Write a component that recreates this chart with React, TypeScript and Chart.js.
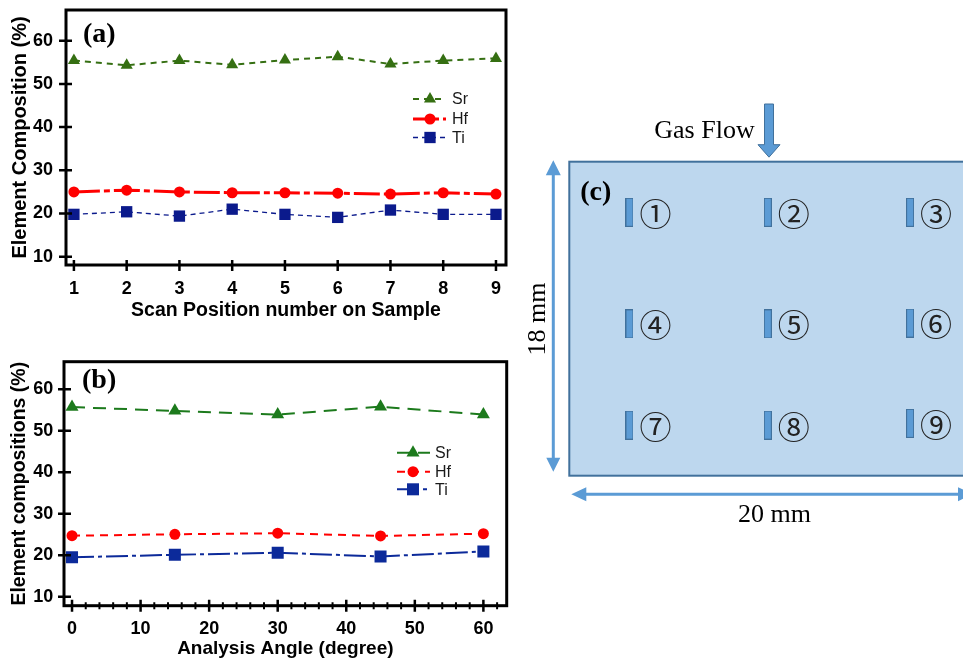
import React, { useEffect, useRef } from 'react';
import { Chart, registerables } from 'chart.js';

Chart.register(...registerables);

// ---------- Panel (a): composition vs scan position ----------
const scanPositions = [1, 2, 3, 4, 5, 6, 7, 8, 9];
const srByPosition = [55.4, 54.3, 55.4, 54.4, 55.5, 56.3, 54.6, 55.4, 55.9];
const hfByPosition = [25.0, 25.4, 25.0, 24.8, 24.8, 24.7, 24.5, 24.8, 24.5];
const tiByPosition = [19.8, 20.4, 19.4, 21.0, 19.8, 19.1, 20.8, 19.8, 19.8];

// ---------- Panel (b): composition vs analysis angle ----------
const analysisAngles = [0, 15, 30, 45, 60];
const srByAngle = [55.7, 54.8, 53.9, 55.8, 53.9];
const hfByAngle = [24.7, 25.05, 25.3, 24.65, 25.2];
const tiByAngle = [19.5, 20.1, 20.6, 19.7, 20.9];

// ---------- Tick labels ----------
const compositionTicks = [10, 20, 30, 40, 50, 60];
const positionTicks = [1, 2, 3, 4, 5, 6, 7, 8, 9];
const angleTicks = [0, 10, 20, 30, 40, 50, 60];
const angleMinorTicks = [2, 4, 6, 8, 12, 14, 16, 18, 22, 24, 26, 28, 32, 34, 36, 38, 42, 44, 46, 48, 52, 54, 56, 58, 62];

// ---------- Panel (c): sample map (mm) ----------
const siteLabels = ['①', '②', '③', '④', '⑤', '⑥', '⑦', '⑧', '⑨'];
const siteXmm = [3.0, 9.9, 17.0, 3.0, 9.9, 17.0, 3.0, 9.9, 17.0];
const siteYmm = [2.9, 2.9, 2.9, 9.3, 9.3, 9.25, 15.1, 15.1, 15.0];
const sampleWidthMm = 20;
const sampleHeightMm = 18;

const SANS = 'Arial, "Liberation Sans", Helvetica, sans-serif';
const SERIF = '"Times New Roman", "Liberation Serif", serif';
const CJK = '"Liberation Serif", "Noto Sans CJK JP", serif';

function drawMarker(ctx: CanvasRenderingContext2D, style: string, x: number, y: number, r: number, color: string) {
  ctx.fillStyle = color;
  ctx.beginPath();
  if (style === 'triangle') {
    const a = (2 * Math.PI) / 3;
    ctx.moveTo(x, y - r);
    ctx.lineTo(x + Math.sin(a) * r, y - Math.cos(a) * r);
    ctx.lineTo(x - Math.sin(a) * r, y - Math.cos(a) * r);
    ctx.closePath();
  } else if (style === 'rect') {
    const s = r * Math.SQRT1_2;
    ctx.rect(x - s, y - s, 2 * s, 2 * s);
  } else {
    ctx.arc(x, y, r, 0, Math.PI * 2);
  }
  ctx.fill();
}

interface PanelDecor {
  label: string;
  labelX: number;
  labelBaseline: number;
  yTicks: number[];
  xMajor: number[];
  xMinor: number[];
  yTickOut: number;
  yTickIn: number;
  xTickOut: number;
  xTickIn: number;
  minorHalf: number;
  legend: { x0: number; x1: number; mx: number; tx: number; ys: number[] };
}

function panelDecorPlugin(d: PanelDecor) {
  return {
    id: 'panelDecor',
    afterDraw(chart: any) {
      const { ctx, chartArea: a, scales } = chart;
      const sx = scales.x;
      const sy = scales.y;
      ctx.save();
      ctx.setLineDash([]);
      ctx.strokeStyle = '#000';
      ctx.lineWidth = 3;
      ctx.strokeRect(a.left, a.top, a.right - a.left, a.bottom - a.top);
      ctx.lineWidth = 2.5;
      ctx.beginPath();
      for (const v of d.yTicks) {
        const y = sy.getPixelForValue(v);
        ctx.moveTo(a.left - d.yTickOut, y);
        ctx.lineTo(a.left + d.yTickIn, y);
      }
      for (const v of d.xMajor) {
        const x = sx.getPixelForValue(v);
        ctx.moveTo(x, a.bottom - d.xTickIn);
        ctx.lineTo(x, a.bottom + d.xTickOut);
      }
      ctx.stroke();
      ctx.lineWidth = 2;
      ctx.beginPath();
      for (const v of d.xMinor) {
        const x = sx.getPixelForValue(v);
        ctx.moveTo(x, a.bottom - d.minorHalf);
        ctx.lineTo(x, a.bottom + d.minorHalf);
      }
      ctx.stroke();

      ctx.fillStyle = '#000';
      ctx.font = `bold 28px ${SERIF}`;
      ctx.textAlign = 'left';
      ctx.textBaseline = 'alphabetic';
      ctx.fillText(d.label, d.labelX, d.labelBaseline);

      chart.data.datasets.forEach((ds: any, i: number) => {
        const y = d.legend.ys[i];
        ctx.strokeStyle = ds.borderColor;
        ctx.lineWidth = ds.borderWidth;
        ctx.setLineDash(ds.borderDash || []);
        ctx.beginPath();
        ctx.moveTo(d.legend.x0, y);
        ctx.lineTo(d.legend.x1, y);
        ctx.stroke();
        ctx.setLineDash([]);
        drawMarker(ctx, ds.pointStyle, d.legend.mx, y, ds.pointRadius, ds.backgroundColor);
        ctx.fillStyle = '#1a1a1a';
        ctx.font = `16px ${SANS}`;
        ctx.textBaseline = 'middle';
        ctx.fillText(ds.label, d.legend.tx, y + 1);
      });
      ctx.restore();
    },
  };
}

const fixAxis = (size: number, horizontal: boolean) => (scale: any) => {
  if (horizontal) scale.height = size;
  else scale.width = size;
  scale.paddingTop = 0;
  scale.paddingBottom = 0;
  scale.paddingLeft = 0;
  scale.paddingRight = 0;
};

const setTicks = (vals: number[]) => (scale: any) => {
  scale.ticks = vals.map((v) => ({ value: v }));
};

function series(xs: number[], ys: number[]) {
  return xs.map((x, i) => ({ x, y: ys[i] }));
}

export default function App() {
  const refA = useRef<HTMLCanvasElement>(null);
  const refB = useRef<HTMLCanvasElement>(null);
  const refC = useRef<HTMLCanvasElement>(null);

  useEffect(() => {
    const charts: Chart[] = [];

    // ---------------- Panel (a) ----------------
    const greenA = '#356f12';
    const blueA = '#0b1a8c';
    charts.push(
      new Chart(refA.current as HTMLCanvasElement, {
        type: 'line',
        data: {
          datasets: [
            {
              label: 'Sr', data: series(scanPositions, srByPosition), borderColor: greenA, backgroundColor: greenA,
              borderWidth: 2, borderDash: [6, 5], pointStyle: 'triangle', pointRadius: 7, pointBorderWidth: 0, tension: 0,
            },
            {
              label: 'Hf', data: series(scanPositions, hfByPosition), borderColor: '#ff0000', backgroundColor: '#ff0000',
              borderWidth: 3, borderDash: [26, 4, 6, 4], pointStyle: 'circle', pointRadius: 5.5, pointBorderWidth: 0, tension: 0,
            },
            {
              label: 'Ti', data: series(scanPositions, tiByPosition), borderColor: blueA, backgroundColor: blueA,
              borderWidth: 1.3, borderDash: [5, 4], pointStyle: 'rect', pointRadius: 8, pointBorderWidth: 0, tension: 0,
            },
          ] as any,
        },
        options: {
          responsive: false,
          animation: false,
          events: [],
          layout: { padding: { left: 0, top: 10, right: 14, bottom: 0 } },
          plugins: { legend: { display: false }, tooltip: { enabled: false } },
          scales: {
            x: {
              type: 'linear', min: 0.85, max: 9.19,
              afterBuildTicks: setTicks(positionTicks),
              afterFit: fixAxis(65, true),
              grid: { display: false, drawTicks: false },
              border: { display: false },
              ticks: { padding: 13, autoSkip: false, maxRotation: 0, color: '#000', font: { family: SANS, size: 18, weight: 'bold' } },
              title: { display: true, text: 'Scan Position number on Sample', color: '#000', font: { family: SANS, size: 19.5, weight: 'bold' }, padding: { top: 0, bottom: 8 } },
            },
            y: {
              type: 'linear', min: 8.08, max: 67.1,
              afterBuildTicks: setTicks(compositionTicks),
              afterFit: fixAxis(66, false),
              grid: { display: false, drawTicks: false },
              border: { display: false },
              ticks: { padding: 13, autoSkip: false, color: '#000', font: { family: SANS, size: 18, weight: 'bold' } },
              title: { display: true, text: 'Element Composition (%)', color: '#000', font: { family: SANS, size: 20, weight: 'bold' }, padding: { top: 8, bottom: 0 } },
            },
          },
        } as any,
        plugins: [
          panelDecorPlugin({
            label: '(a)', labelX: 83, labelBaseline: 42,
            yTicks: compositionTicks, xMajor: positionTicks, xMinor: [],
            yTickOut: 7, yTickIn: 6, xTickOut: 6, xTickIn: 5, minorHalf: 3,
            legend: { x0: 413, x1: 446, mx: 430, tx: 452, ys: [99, 119, 137.5] },
          }),
        ],
      })
    );

    // ---------------- Panel (b) ----------------
    const greenB = '#1c7a1c';
    const blueB = '#0c2a9a';
    charts.push(
      new Chart(refB.current as HTMLCanvasElement, {
        type: 'line',
        data: {
          datasets: [
            {
              label: 'Sr', data: series(analysisAngles, srByAngle), borderColor: greenB, backgroundColor: greenB,
              borderWidth: 2, borderDash: [13, 8], pointStyle: 'triangle', pointRadius: 7.5, pointBorderWidth: 0, tension: 0,
            },
            {
              label: 'Hf', data: series(analysisAngles, hfByAngle), borderColor: '#ff0000', backgroundColor: '#ff0000',
              borderWidth: 2, borderDash: [8, 6], pointStyle: 'circle', pointRadius: 5.5, pointBorderWidth: 0, tension: 0,
            },
            {
              label: 'Ti', data: series(analysisAngles, tiByAngle), borderColor: blueB, backgroundColor: blueB,
              borderWidth: 2, borderDash: [22, 4, 4, 4], pointStyle: 'rect', pointRadius: 8.5, pointBorderWidth: 0, tension: 0,
            },
          ] as any,
        },
        options: {
          responsive: false,
          animation: false,
          events: [],
          layout: { padding: { left: 0, top: 21.7, right: 13.3, bottom: 0 } },
          plugins: { legend: { display: false }, tooltip: { enabled: false } },
          scales: {
            x: {
              type: 'linear', min: -1.17, max: 63.4,
              afterBuildTicks: setTicks(angleTicks),
              afterFit: fixAxis(54.3, true),
              grid: { display: false, drawTicks: false },
              border: { display: false },
              ticks: { padding: 13, autoSkip: false, maxRotation: 0, color: '#000', font: { family: SANS, size: 18, weight: 'bold' } },
              title: { display: true, text: 'Analysis Angle (degree)', color: '#000', font: { family: SANS, size: 19, weight: 'bold' }, padding: { top: 0, bottom: 0 } },
            },
            y: {
              type: 'linear', min: 7.83, max: 66.65,
              afterBuildTicks: setTicks(compositionTicks),
              afterFit: fixAxis(64, false),
              grid: { display: false, drawTicks: false },
              border: { display: false },
              ticks: { padding: 10.7, autoSkip: false, color: '#000', font: { family: SANS, size: 18, weight: 'bold' } },
              title: { display: true, text: 'Element compositions (%)', color: '#000', font: { family: SANS, size: 19.5, weight: 'bold' }, padding: { top: 8, bottom: 0 } },
            },
          },
        } as any,
        plugins: [
          panelDecorPlugin({
            label: '(b)', labelX: 82, labelBaseline: 48,
            yTicks: compositionTicks, xMajor: angleTicks, xMinor: angleMinorTicks,
            yTickOut: 6, yTickIn: 7, xTickOut: 6, xTickIn: 6, minorHalf: 3.5,
            legend: { x0: 397, x1: 430, mx: 413, tx: 435, ys: [112.7, 131.7, 149.3] },
          }),
        ],
      })
    );

    // ---------------- Panel (c) ----------------
    const barImg = document.createElement('canvas');
    barImg.width = 8;
    barImg.height = 29;
    const bctx = barImg.getContext('2d') as CanvasRenderingContext2D;
    bctx.fillStyle = '#41719c';
    bctx.fillRect(0, 0, 8, 29);
    bctx.fillStyle = '#5b9bd5';
    bctx.fillRect(1, 1, 6, 27);

    const arrowBlue = '#5b9bd5';
    const samplePlugin = {
      id: 'sampleMap',
      beforeDatasetsDraw(chart: any) {
        const { ctx, scales } = chart;
        const x0 = scales.x.getPixelForValue(0);
        const x1 = scales.x.getPixelForValue(sampleWidthMm);
        const y0 = scales.y.getPixelForValue(0);
        const y1 = scales.y.getPixelForValue(sampleHeightMm);
        ctx.save();
        ctx.fillStyle = '#bdd7ee';
        ctx.fillRect(x0, y0, x1 - x0, y1 - y0);
        ctx.strokeStyle = '#41719c';
        ctx.lineWidth = 2;
        ctx.strokeRect(x0, y0, x1 - x0, y1 - y0);
        ctx.restore();
      },
      afterDatasetsDraw(chart: any) {
        const { ctx } = chart;
        const meta = chart.getDatasetMeta(0);
        ctx.save();
        ctx.fillStyle = '#222';
        ctx.font = `32px ${CJK}`;
        ctx.textAlign = 'center';
        ctx.textBaseline = 'middle';
        meta.data.forEach((pt: any, i: number) => {
          ctx.fillText(siteLabels[i], pt.x + 26, pt.y + 5);
        });
        ctx.restore();
      },
      afterDraw(chart: any) {
        const { ctx, scales } = chart;
        const left = scales.x.getPixelForValue(0);
        const top = scales.y.getPixelForValue(0);
        const bottom = scales.y.getPixelForValue(sampleHeightMm);
        ctx.save();
        // panel label
        ctx.fillStyle = '#000';
        ctx.font = `bold 28px ${SERIF}`;
        ctx.textAlign = 'left';
        ctx.textBaseline = 'alphabetic';
        ctx.fillText('(c)', left + 11, 200);
        // gas flow text + block arrow
        ctx.font = `26px ${SERIF}`;
        ctx.textAlign = 'center';
        ctx.fillText('Gas Flow', 184.5, 138.3);
        const cx = 249;
        const tip = top - 4.5;
        ctx.beginPath();
        ctx.moveTo(cx - 4.5, 104);
        ctx.lineTo(cx + 4.5, 104);
        ctx.lineTo(cx + 4.5, tip - 12.5);
        ctx.lineTo(cx + 11, tip - 12.5);
        ctx.lineTo(cx, tip);
        ctx.lineTo(cx - 11, tip - 12.5);
        ctx.lineTo(cx - 4.5, tip - 12.5);
        ctx.closePath();
        ctx.fillStyle = arrowBlue;
        ctx.fill();
        ctx.strokeStyle = '#41719c';
        ctx.lineWidth = 1;
        ctx.stroke();
        // vertical dimension arrow
        const vx = 33.3;
        const vt = top - 1.5;
        const vb = bottom - 4;
        ctx.strokeStyle = arrowBlue;
        ctx.fillStyle = arrowBlue;
        ctx.lineWidth = 3;
        ctx.beginPath();
        ctx.moveTo(vx, vt + 12);
        ctx.lineTo(vx, vb - 12);
        ctx.stroke();
        ctx.beginPath();
        ctx.moveTo(vx, vt);
        ctx.lineTo(vx + 7.5, vt + 15);
        ctx.lineTo(vx - 7.5, vt + 15);
        ctx.closePath();
        ctx.moveTo(vx, vb);
        ctx.lineTo(vx + 7, vb - 14);
        ctx.lineTo(vx - 7, vb - 14);
        ctx.closePath();
        ctx.fill();
        // horizontal dimension arrow
        const hy = bottom + 18.5;
        const hl = left + 2;
        const hr = 453;
        ctx.beginPath();
        ctx.moveTo(hl + 12, hy);
        ctx.lineTo(hr - 12, hy);
        ctx.stroke();
        ctx.beginPath();
        ctx.moveTo(hl, hy);
        ctx.lineTo(hl + 15, hy - 7);
        ctx.lineTo(hl + 15, hy + 7);
        ctx.closePath();
        ctx.moveTo(hr, hy);
        ctx.lineTo(hr - 15, hy - 7);
        ctx.lineTo(hr - 15, hy + 7);
        ctx.closePath();
        ctx.fill();
        // dimension labels
        ctx.fillStyle = '#000';
        ctx.font = `26px ${SERIF}`;
        ctx.textAlign = 'center';
        ctx.textBaseline = 'alphabetic';
        ctx.fillText('20 mm', 254.5, 522.3);
        ctx.save();
        ctx.translate(18.3, 319);
        ctx.rotate(-Math.PI / 2);
        ctx.textBaseline = 'middle';
        ctx.fillText('18 mm', 0, 0);
        ctx.restore();
        ctx.restore();
      },
    };

    charts.push(
      new Chart(refC.current as HTMLCanvasElement, {
        type: 'scatter',
        data: {
          datasets: [
            {
              label: 'Scan positions',
              data: series(siteXmm, siteYmm),
              pointStyle: barImg as any,
              pointRadius: 4,
            },
          ],
        },
        options: {
          responsive: false,
          animation: false,
          events: [],
          layout: { padding: { left: 49.3, top: 161.7, right: 0, bottom: 184.3 } },
          plugins: { legend: { display: false }, tooltip: { enabled: false } },
          scales: {
            x: { type: 'linear', display: false, min: 0, max: 19.39 },
            y: { type: 'linear', display: false, min: 0, max: sampleHeightMm, reverse: true },
          },
        } as any,
        plugins: [samplePlugin],
      })
    );

    return () => {
      charts.forEach((c) => c.destroy());
    };
  }, []);

  return (
    <div style={{ position: 'fixed', left: 0, top: 0, width: 963, height: 660, background: '#fff', overflow: 'hidden' }}>
      <canvas ref={refA} width={520} height={330} style={{ position: 'absolute', left: 0, top: 0 }} />
      <canvas ref={refB} width={520} height={320} style={{ position: 'absolute', left: 0, top: 340 }} />
      <canvas ref={refC} width={443} height={660} style={{ position: 'absolute', left: 520, top: 0 }} />
    </div>
  );
}
